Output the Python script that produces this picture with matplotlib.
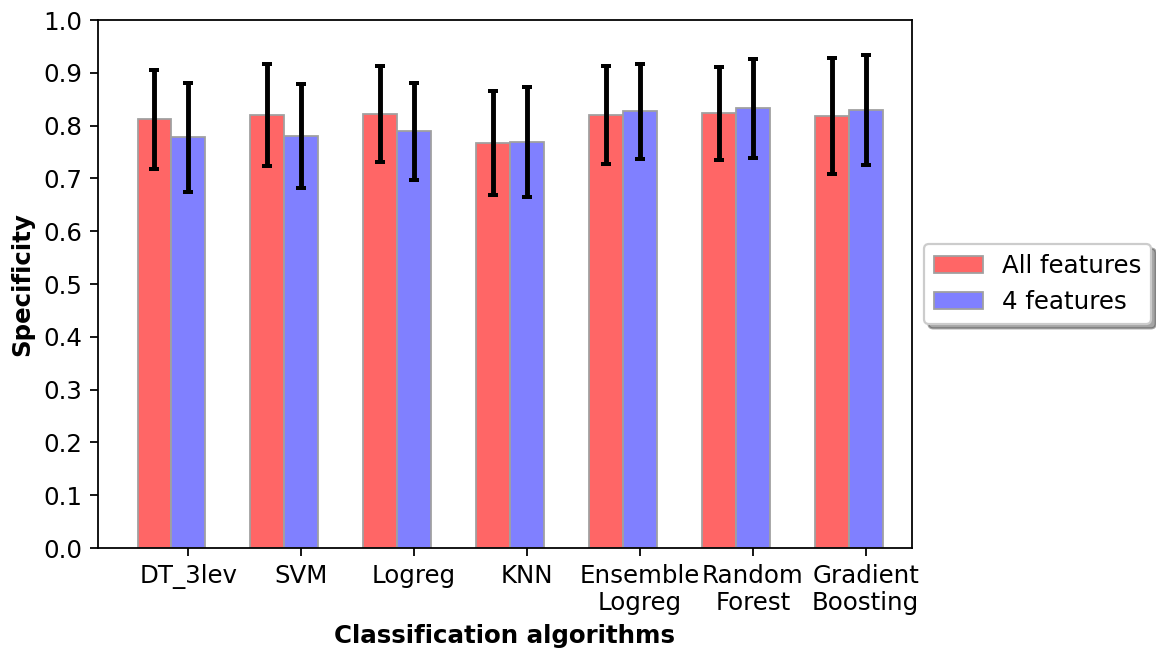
import numpy as np
import matplotlib
matplotlib.use("Agg")
import matplotlib.pyplot as plt

algorithms = ['DT_3lev', 'SVM', 'Logreg', 'KNN', 'Ensemble\nLogreg',
              'Random\nForest', 'Gradient\nBoosting']
spec_all = [0.812, 0.820, 0.822, 0.767, 0.820, 0.823, 0.818]
err_all = [0.094, 0.096, 0.090, 0.099, 0.093, 0.088, 0.110]
spec_4 = [0.778, 0.780, 0.789, 0.769, 0.827, 0.833, 0.830]
err_4 = [0.103, 0.098, 0.092, 0.105, 0.090, 0.094, 0.104]

plt.rcParams['font.size'] = 11

fig = plt.figure(figsize=(1156 / 160, 651 / 160), dpi=160)
ax = fig.add_axes([98 / 1156, 1 - 548 / 651, (912 - 98) / 1156, (548 - 20) / 651])

index = np.arange(len(algorithms))
bar_width = 0.3
err_kw = dict(ecolor='black', elinewidth=2.2, capsize=2.4, capthick=1.8)

ax.bar(index, spec_all, bar_width, color=(1.0, 0.4, 0.4), edgecolor='#a0a0a0',
       linewidth=0.8, yerr=err_all, error_kw=err_kw, label='All features')
ax.bar(index + bar_width, spec_4, bar_width, color=(0.5, 0.5, 1.0), edgecolor='#a0a0a0',
       linewidth=0.8, yerr=err_4, error_kw=err_kw, label='4 features')

ax.set_xticks(index + bar_width)
ax.set_xticklabels(algorithms)
ax.set_xlim(-0.5, 6.71)
ax.set_ylim(0, 1.0)
ax.set_yticks(np.arange(0, 1.01, 0.1))
ax.set_xlabel('Classification algorithms', fontweight='bold')
ax.set_ylabel('Specificity', fontweight='bold')
ax.legend(loc='center left', bbox_to_anchor=(1.0147, 0.5), borderaxespad=0,
          shadow=True, fancybox=True)

fig.savefig('out.png', dpi=160)
